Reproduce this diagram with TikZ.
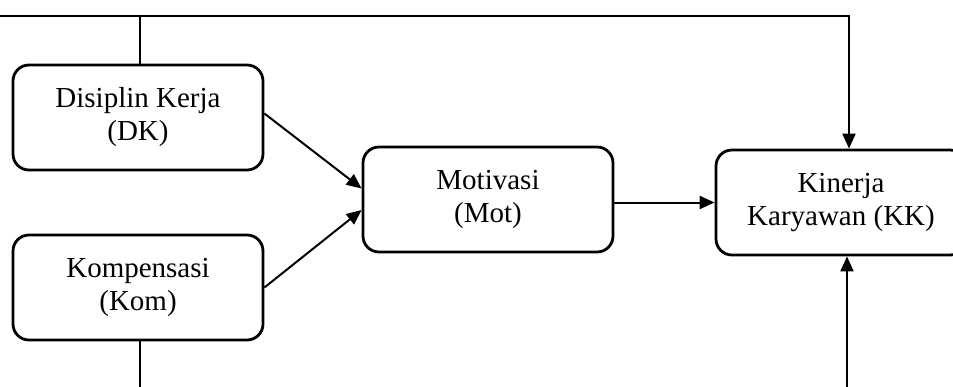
\documentclass[tikz,border=0pt]{standalone}
\usepackage{fontspec}
\setmainfont{Liberation Serif}
\usetikzlibrary{arrows.meta,calc}

\tikzset{
  varbox/.style={draw, line width=1.4pt, rounded corners=8pt, align=center,
    minimum width=125pt, minimum height=52.5pt, inner sep=2pt,
    font=\fontsize{14.5}{16.5}\selectfont},
  link/.style={line width=1pt, -{Triangle[length=7.5pt,width=6.5pt]}}
}

\begin{document}
\begin{tikzpicture}[x=0.5pt, y=-0.5pt]

  % ---- Frame ----
  \useasboundingbox (0,0) rectangle (953,386);
  \clip (0,0) rectangle (953,386);

  % ---- Variables ----
  \node[varbox] (dk)  at (138,117.5) {Disiplin Kerja\\(DK)};
  \node[varbox] (kom) at (138,287.5) {Kompensasi\\(Kom)};
  \node[varbox] (mot) at (488,199.5) {Motivasi\\(Mot)};
  \node[varbox] (kk)  at (841,202.5) {Kinerja\\Karyawan (KK)};

  % ---- Helper points for the outer lines ----
  \coordinate (top) at (0,16);
  \coordinate (bot) at (0,420);

  % ---- Paths into Motivasi ----
  \draw[link] ([yshift=2pt]dk.east) -- ([yshift=5.5pt]mot.west);
  \draw[link] (kom.east) -- ([yshift=-5.25pt]mot.west);

  % ---- Motivasi to Kinerja ----
  \draw[link] (kk.west -| mot.east) -- (kk.west);

  % ---- Direct paths to Kinerja ----
  \draw[link] ([xshift=1pt]dk.north) |- (top) -| ([xshift=4pt]kk.north);
  \draw[link] ([xshift=1pt]kom.south) |- (bot) -| ([xshift=3pt]kk.south);

\end{tikzpicture}
\end{document}
